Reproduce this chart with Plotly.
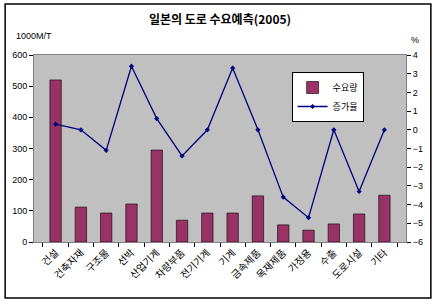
import plotly.graph_objects as go

categories = ["건설", "건축자재", "구조물", "선박", "산업기계", "차량부품", "전기기계",
              "기계", "금속제품", "목재제품", "가정용", "수출", "도로시설", "기타"]
demand = [520, 112, 93, 122, 295, 70, 93, 93, 148, 55, 38, 58, 90, 150]
growth = [0.3, 0.0, -1.1, 3.4, 0.6, -1.4, 0.0, 3.3, 0.0, -3.6, -4.7, 0.0, -3.3, 0.0]
left_ticks = [0, 100, 200, 300, 400, 500, 600]
right_ticks = [-6, -5, -4, -3, -2, -1, 0, 1, 2, 3, 4]

W, H = 435, 306
ml, mr, mt, mb = 33, 28, 55, 64
pw, ph = W - ml - mr, H - mt - mb

kr = "Noto Sans CJK KR"
num = "Liberation Sans"

fig = go.Figure()
fig.add_trace(go.Bar(
    x=categories, y=demand, name="수요량",
    marker=dict(color="#993366", line=dict(color="#000000", width=0.6)),
    yaxis="y",
))
fig.add_trace(go.Scatter(
    x=categories, y=growth, name="증가율", mode="lines+markers",
    line=dict(color="#000080", width=1.3),
    marker=dict(symbol="diamond", size=4, color="#000080"),
    yaxis="y2",
))

def px_x(p):
    return (p - ml) / pw

def px_y(p):
    return 1 - (p - mt) / ph

fig.update_layout(
    width=W, height=H,
    margin=dict(l=ml, r=mr, t=mt, b=mb),
    paper_bgcolor="white",
    plot_bgcolor="#C0C0C0",
    bargap=0.55,
    showlegend=True,
    legend=dict(
        x=px_x(292), y=px_y(72), xanchor="left", yanchor="top",
        bgcolor="white", bordercolor="black", borderwidth=1,
        font=dict(family=kr, size=9, color="black"),
        itemwidth=30, tracegroupgap=0,
    ),
    title=dict(text="<b>일본의 도로 수요예측(2005)</b>", x=0.5, xref="paper",
               y=1 - 20 / H, yanchor="middle",
               font=dict(family=kr, size=12, color="black")),
    xaxis=dict(
        type="category", tickangle=-45, ticks="outside", ticklen=4,
        tickson="boundaries", tickcolor="black",
        tickfont=dict(family=kr, size=10, color="black"),
        showline=True, linecolor="#808080", mirror=True,
        showgrid=False,
    ),
    yaxis=dict(
        range=[0, 600], tickvals=left_ticks, ticks="outside", ticklen=4,
        tickcolor="black", showgrid=False, zeroline=False,
        tickfont=dict(family=num, size=9, color="black"),
        showline=True, linecolor="#808080",
    ),
    yaxis2=dict(
        range=[-6, 4], tickvals=right_ticks, overlaying="y", side="right",
        ticks="outside", ticklen=4, tickcolor="black", showgrid=False,
        zeroline=False, tickfont=dict(family=num, size=9, color="black"),
        showline=True, linecolor="#808080",
    ),
    annotations=[
        dict(text="1000M/T", xref="paper", yref="paper", x=px_x(13), y=px_y(36),
             xanchor="left", yanchor="middle", showarrow=False,
             font=dict(family=num, size=9, color="black")),
        dict(text="%", xref="paper", yref="paper", x=px_x(410), y=px_y(40),
             xanchor="left", yanchor="middle", showarrow=False,
             font=dict(family=num, size=9, color="black")),
    ],
    shapes=[
        dict(type="rect", xref="paper", yref="paper",
             x0=px_x(4), x1=px_x(432), y0=px_y(298), y1=px_y(4),
             line=dict(color="black", width=1.5), fillcolor="rgba(0,0,0,0)",
             layer="below"),
    ],
)

fig.write_html("out.html")
